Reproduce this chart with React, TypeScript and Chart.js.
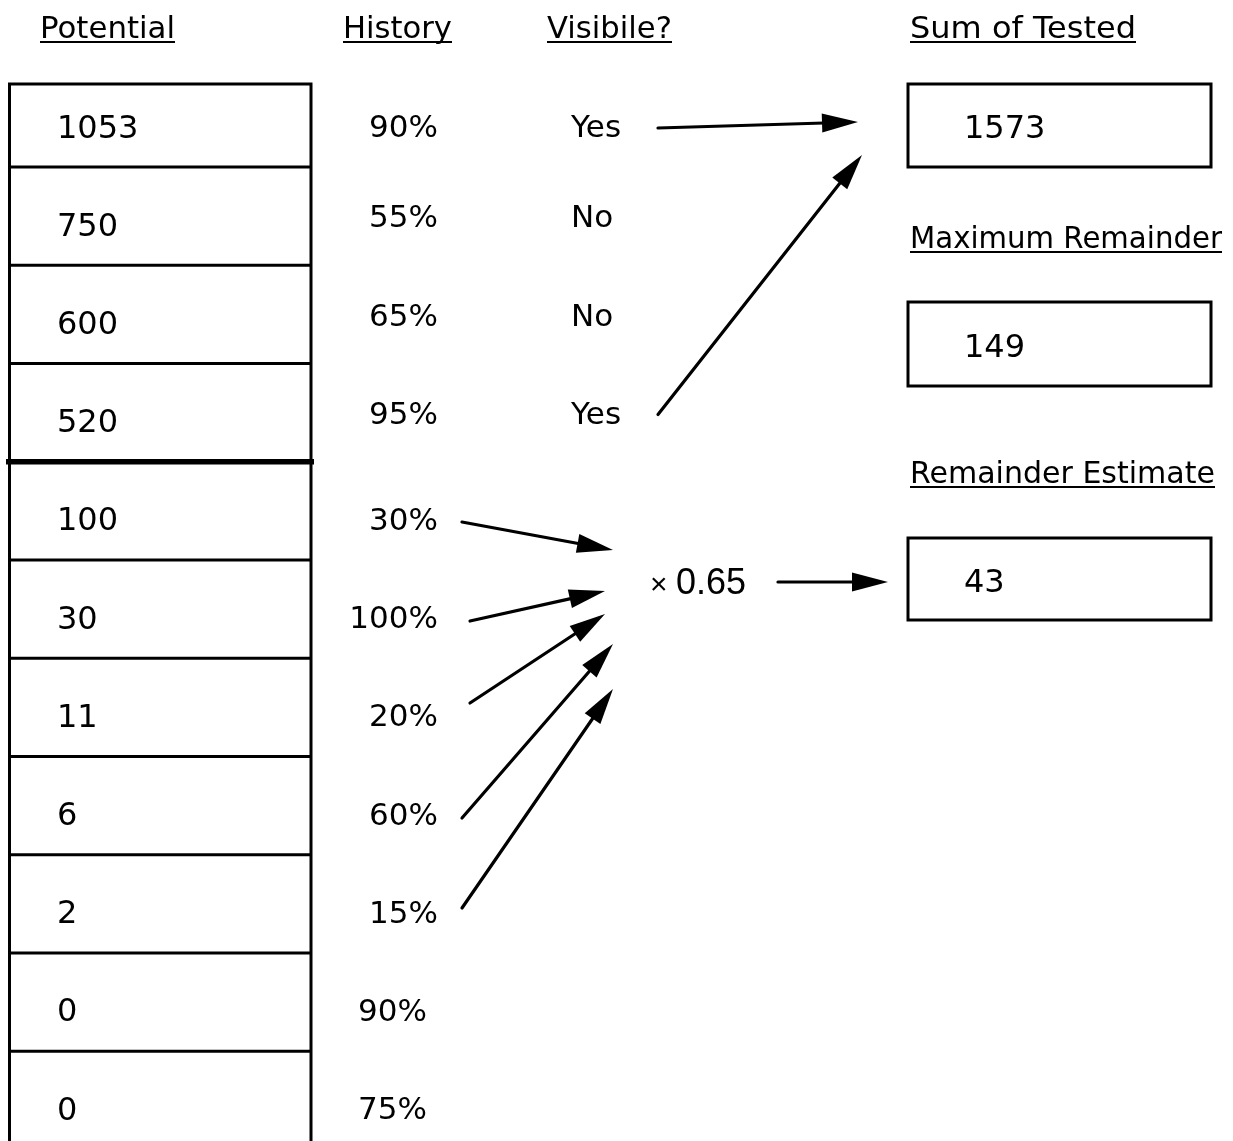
import React, { useEffect, useRef } from "react";
import { Chart, registerables } from "chart.js";

Chart.register(...registerables);

// ---- data ----
const columnTitles = ["Potential", "History", "Visibile?"];
const potential = [1053, 750, 600, 520, 100, 30, 11, 6, 2, 0, 0];
const history = ["90%", "55%", "65%", "95%", "30%", "100%", "20%", "60%", "15%", "90%", "75%"];
const visible = ["Yes", "No", "No", "Yes"];
const summaryTitles = ["Sum of Tested", "Maximum Remainder", "Remainder Estimate"];
const summaryValues = [1573, 149, 43];
const multiplier = "0.65";
const testedCount = visible.length;
const visibleYesRows = [0, 3];
const remainderRows = [4, 5, 6, 7, 8];

// ---- layout (canvas units) ----
const W = 1233;
const H = 1141;
const BOX_L = 9.5;
const BOX_R = 311;
const ROW_TOP = 84;
const FIRST_DIV = 167;
const ROW_H = 98.25;
const FONT = "DejaVu Sans, Verdana, sans-serif";
const titleX = [40, 343, 547];
const titleW = [135, 109, 125];
const summaryX = 910;
const summaryTitleW = [226, 312, 305];
const summaryTitleBase = [38, 248, 483];
const summaryBox = [
  [908, 84, 1211, 167],
  [908, 302, 1211, 386],
  [908, 538, 1211, 620],
];
const yesArrowTips = [
  [858, 122],
  [862, 155],
];
const remStarts = [
  [462, 522],
  [470, 621],
  [470, 703],
  [462, 818],
  [462, 908],
];
const remEnds = [
  [613, 550],
  [605, 591],
  [605, 614],
  [613, 644],
  [613, 689],
];

const rowLine = (k: number) => (k === 0 ? ROW_TOP : FIRST_DIV + (k - 1) * ROW_H);
const textY = (i: number) => (i === 0 ? 126 : 126 + 98.2 * i);
const sideY = (i: number) => (i >= 1 && i <= 3 ? textY(i) - 8 : textY(i));
const historyRight = (i: number) => (i >= 9 ? 427 : 438);

const diagramPlugin = {
  id: "diagram",
  afterDraw(chart: any) {
    const ctx: CanvasRenderingContext2D = chart.ctx;
    const xs = chart.scales.x;
    const ys = chart.scales.y;
    const X = (v: number) => xs.getPixelForValue(v);
    const Y = (v: number) => ys.getPixelForValue(v);
    ctx.save();
    ctx.fillStyle = "#000";
    ctx.strokeStyle = "#000";

    const text = (s: string, x: number, yc: number, align: CanvasTextAlign = "left", size = 32) => {
      ctx.font = `${size}px ${FONT}`;
      ctx.textAlign = align;
      ctx.textBaseline = "alphabetic";
      ctx.fillText(s, X(x), Y(yc) + size * 0.36);
    };
    const underlined = (s: string, x: number, base: number, targetW: number) => {
      ctx.font = `31px ${FONT}`;
      ctx.textAlign = "left";
      ctx.textBaseline = "alphabetic";
      const natural = ctx.measureText(s).width;
      ctx.save();
      ctx.translate(X(x), Y(base));
      ctx.scale(targetW / natural, 1);
      ctx.fillText(s, 0, 0);
      ctx.restore();
      ctx.lineWidth = 2;
      ctx.beginPath();
      ctx.moveTo(X(x), Y(base + 4));
      ctx.lineTo(X(x) + targetW, Y(base + 4));
      ctx.stroke();
    };
    const arrow = (x1: number, y1: number, x2: number, y2: number) => {
      const ax = X(x1), ay = Y(y1), bx = X(x2), by = Y(y2);
      const ang = Math.atan2(by - ay, bx - ax);
      const L = 36, hw = 9.5;
      const cx = bx - L * Math.cos(ang), cy = by - L * Math.sin(ang);
      ctx.lineWidth = 3.2;
      ctx.lineCap = "round";
      ctx.beginPath();
      ctx.moveTo(ax, ay);
      ctx.lineTo(cx + 2 * Math.cos(ang), cy + 2 * Math.sin(ang));
      ctx.stroke();
      ctx.beginPath();
      ctx.moveTo(bx, by);
      ctx.lineTo(cx + hw * Math.sin(ang), cy - hw * Math.cos(ang));
      ctx.lineTo(cx - hw * Math.sin(ang), cy + hw * Math.cos(ang));
      ctx.closePath();
      ctx.fill();
    };

    // headers
    columnTitles.forEach((t, i) => underlined(t, titleX[i], 38, titleW[i]));
    summaryTitles.forEach((t, i) => underlined(t, summaryX, summaryTitleBase[i], summaryTitleW[i]));

    // left table
    ctx.lineWidth = 3;
    ctx.lineCap = "butt";
    ctx.beginPath();
    ctx.moveTo(X(BOX_L), Y(H + 10));
    ctx.lineTo(X(BOX_L), Y(ROW_TOP));
    ctx.lineTo(X(BOX_R), Y(ROW_TOP));
    ctx.lineTo(X(BOX_R), Y(H + 10));
    ctx.stroke();
    for (let k = 1; k <= potential.length; k++) {
      if (k === testedCount) continue;
      ctx.beginPath();
      ctx.moveTo(X(BOX_L), Y(rowLine(k)));
      ctx.lineTo(X(BOX_R), Y(rowLine(k)));
      ctx.stroke();
    }
    ctx.lineWidth = 5.5;
    ctx.beginPath();
    ctx.moveTo(X(BOX_L - 3.5), Y(rowLine(testedCount)));
    ctx.lineTo(X(BOX_R + 3), Y(rowLine(testedCount)));
    ctx.stroke();

    potential.forEach((v, i) => text(String(v), 57, textY(i)));
    history.forEach((h, i) => text(h, historyRight(i), sideY(i), "right", 31));
    visible.forEach((v, i) => text(v, 571, sideY(i), "left", 31));

    // summary boxes
    ctx.lineWidth = 3;
    summaryBox.forEach((b, i) => {
      ctx.strokeRect(X(b[0]), Y(b[1]), X(b[2]) - X(b[0]), Y(b[3]) - Y(b[1]));
      text(String(summaryValues[i]), 964, (b[1] + b[3]) / 2 + 1);
    });

    // arrows from "Yes"
    visibleYesRows.forEach((r, j) => arrow(658, sideY(r) + 2, yesArrowTips[j][0], yesArrowTips[j][1]));
    // remainder arrows
    remainderRows.forEach((r, j) => arrow(remStarts[j][0], remStarts[j][1], remEnds[j][0], remEnds[j][1]));

    // multiplier
    ctx.font = `30px "Liberation Sans", Arial, sans-serif`;
    ctx.textAlign = "left";
    ctx.fillText("\u00d7", X(650), Y(594));
    ctx.font = `36px "Liberation Sans", Arial, sans-serif`;
    ctx.fillText(multiplier, X(676), Y(594));
    arrow(778, 582, 888, 582);

    ctx.restore();
  },
};

export default function App() {
  const ref = useRef<HTMLCanvasElement | null>(null);
  useEffect(() => {
    if (!ref.current) return;
    const chart = new Chart(ref.current, {
      type: "scatter",
      data: { datasets: [{ data: [], pointRadius: 0 }] },
      options: {
        animation: false,
        responsive: false,
        layout: { padding: 0 },
        plugins: { legend: { display: false }, tooltip: { enabled: false } },
        scales: {
          x: { type: "linear", min: 0, max: W, display: false },
          y: { type: "linear", min: 0, max: H, reverse: true, display: false },
        },
      },
      plugins: [diagramPlugin],
    });
    return () => chart.destroy();
  }, []);
  return (
    <div style={{ position: "absolute", left: 0, top: 0, width: W, height: H, background: "#fff" }}>
      <canvas ref={ref} width={W} height={H} style={{ display: "block" }} />
    </div>
  );
}
